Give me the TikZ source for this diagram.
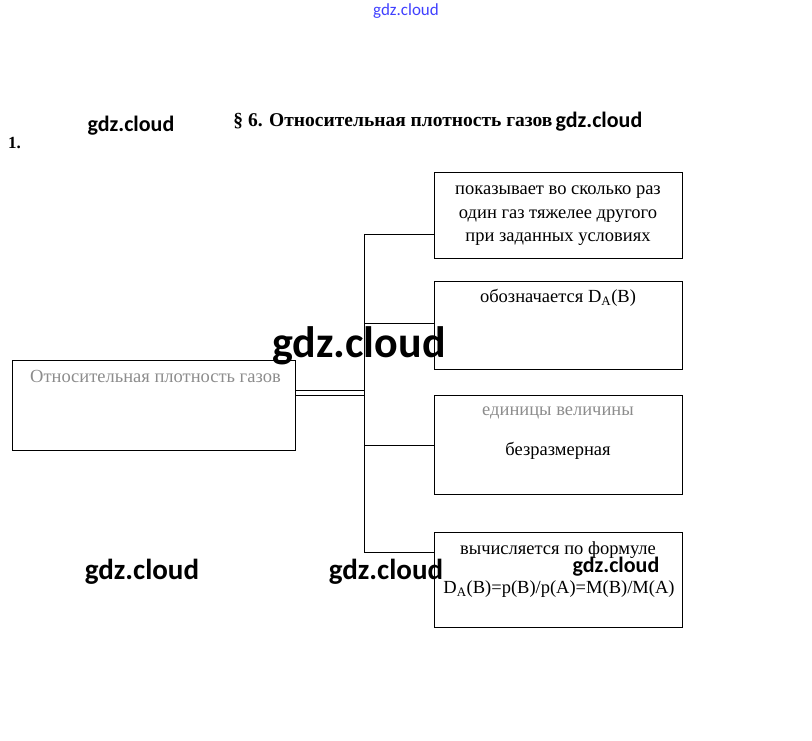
\documentclass[tikz,border=0pt]{standalone}
\usepackage{fontspec}
\setmainfont{Liberation Serif}
\newfontfamily\wmfont{Carlito}
\begin{document}
\begin{tikzpicture}[x=1pt,y=-1pt,
  box/.style={draw=black, line width=0.7pt, anchor=north west, inner sep=0pt},
  btext/.style={font=\fontsize{18.5}{23.5}\selectfont, align=center, inner sep=0pt},
  faded/.style={text=black!45},
  wm/.style={font=\wmfont\bfseries\fontsize{22}{22}\selectfont, inner sep=0pt},
  conn/.style={line width=0.7pt}]
\useasboundingbox (0,0) rectangle (812,741);
% boxes
\node[box, minimum width=283pt, minimum height=90pt] (L) at (12,360) {};
\node[box, minimum width=248pt, minimum height=86pt] (b1) at (434,172) {};
\node[box, minimum width=248pt, minimum height=88pt] (b2) at (434,281) {};
\node[box, minimum width=248pt, minimum height=99pt] (b3) at (434,395) {};
\node[box, minimum width=248pt, minimum height=95pt] (b4) at (434,532) {};
% texts
\node[btext, faded, anchor=west] (Lt) at (30,376) {Относительная плотность газов};
\node[btext] (t1) at (558,216) {показывает во сколько раз\\один газ тяжелее другого\\при заданных условиях};
\node[btext] (t2) at (558,298) {обозначается D\textsubscript{A}(B)};
\node[btext, faded] (t3a) at (558,413) {единицы величины};
\node[btext] (t3b) at (558,451) {безразмерная};
\node[btext] (t4a) at (558,550) {вычисляется по формуле};
\node[btext] (t4b) at (559,589) {D\textsubscript{A}(B)=p(B)/p(A)=M(B)/M(A)};
% title
\node[font=\bfseries\fontsize{19.5}{19.5}\selectfont, inner sep=0pt] (title) at (393,121) {§ 6. Относительная плотность газов};
\node[font=\bfseries\fontsize{17}{17}\selectfont, inner sep=0pt, anchor=west] (num) at (8,143) {1.};
% connectors
\coordinate (j1) at (364,234);
\coordinate (j2) at (364,323);
\coordinate (j3) at (364,445);
\coordinate (j4) at (364,552);
\coordinate (m1) at (364,390);
\coordinate (m2) at (364,395);
\draw[conn] (j1) -- (j4);
\draw[conn] (j1) -- (j1 -| b1.west);
\draw[conn] (j2) -- (j2 -| b2.west);
\draw[conn] (j3) -- (j3 -| b3.west);
\draw[conn] (j4) -- (j4 -| b4.west);
\draw[conn] (m1 -| L.east) -- (m1);
\draw[conn] (m2 -| L.east) -- (m2);
% watermarks
\node[font=\wmfont\fontsize{17}{17}\selectfont, text=blue!75, inner sep=0pt] (w0) at (406,11) {gdz.cloud};
\node[wm] (w1) at (131,126) {gdz.cloud};
\node[wm] (w2) at (599,122) {gdz.cloud};
\node[wm, font=\wmfont\bfseries\fontsize{44}{44}\selectfont] (w3) at (359,346) {gdz.cloud};
\node[wm, font=\wmfont\bfseries\fontsize{29}{29}\selectfont] (w4) at (142,572) {gdz.cloud};
\node[wm, font=\wmfont\bfseries\fontsize{29}{29}\selectfont] (w5) at (386,572) {gdz.cloud};
\node[wm] (w6) at (616,567) {gdz.cloud};
\end{tikzpicture}
\end{document}
